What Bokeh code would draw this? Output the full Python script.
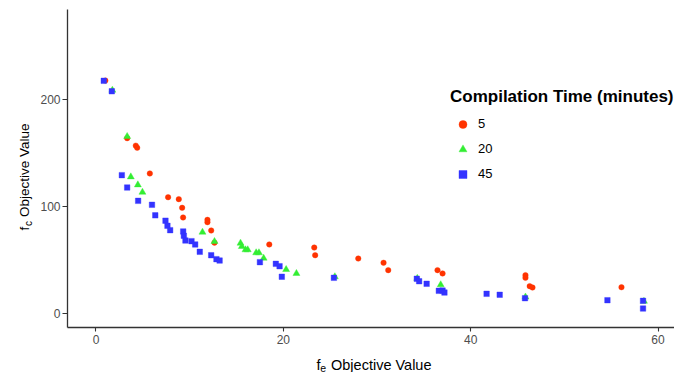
import math
from bokeh.plotting import figure
from bokeh.layouts import row, column
from bokeh.models import ColumnDataSource, Legend, LegendItem, Label, FixedTicker
from bokeh.embed import file_html
from bokeh.resources import INLINE

# ---------------- data ----------------
x_5 = [1.0, 3.33, 4.25, 4.40, 5.75, 7.7, 8.84, 9.2, 9.3, 11.9, 11.9, 12.3, 12.65,
       18.5, 23.3, 23.4, 28.0, 30.7, 31.2, 36.46, 37.0, 45.85, 45.85, 46.3, 46.6, 56.1]
y_5 = [218.0, 164.0, 157.0, 155.0, 130.9, 108.6, 106.8, 98.7, 89.6, 87.4, 85.2, 77.4, 66.0,
       64.3, 61.4, 54.2, 51.1, 47.1, 40.2, 40.2, 37.1, 35.5, 33.0, 25.2, 23.9, 24.2]

x_20 = [1.75, 3.33, 3.72, 4.47, 4.96, 11.37, 12.65, 15.43, 15.57, 15.96, 16.2, 17.1, 17.4,
        17.9, 20.3, 21.4, 25.5, 34.3, 36.8, 45.85, 58.5]
y_20 = [209.0, 165.6, 127.7, 120.2, 113.3, 75.8, 67.1, 65.5, 62.4, 59.3, 59.3, 56.5, 56.5,
        51.4, 40.8, 37.1, 34.0, 32.5, 26.5, 15.0, 11.0]

x_45 = [0.83, 1.69, 2.76, 3.33, 4.5, 5.98, 6.33, 7.42, 7.63, 7.92, 9.31, 9.38, 9.55, 10.2,
        10.59, 11.08, 12.3, 12.86, 13.2, 17.5, 19.2, 19.6, 19.84, 25.4, 34.25, 34.5, 35.3,
        36.6, 37.0, 37.2, 41.7, 43.1, 45.8, 54.6, 58.4, 58.4]
y_45 = [217.8, 208.0, 129.3, 117.7, 105.2, 101.5, 91.6, 86.6, 81.8, 77.7, 76.5, 72.4, 68.0, 67.4,
        64.3, 57.4, 54.2, 50.5, 49.2, 47.7, 46.1, 43.9, 34.0, 33.0, 32.1, 29.8, 27.4,
        20.8, 21.0, 19.2, 18.0, 17.1, 13.9, 12.0, 11.4, 4.2]

series_labels = ["5", "20", "45"]
x_ticks = [0, 20, 40, 60]
y_ticks = [0, 100, 200]
legend_title = "Compilation Time (minutes)"
axis_title_main = "Objective Value"
x_title_sub = "e"
y_title_sub = "c"

FONT = "Liberation Sans"

# ---------------- main figure ----------------
p = figure(
    output_backend="svg", toolbar_location=None,
    frame_width=607, frame_height=318,
    min_border_left=31, min_border_right=0, min_border_top=9, min_border_bottom=21,
    x_range=(-3.04, 61.76), y_range=(-13.6, 284.7),
    background_fill_color="white", border_fill_color="white",
)
p.outline_line_color = None
p.grid.visible = False

for ax in (p.xaxis[0], p.yaxis[0]):
    ax.axis_line_color = "#333333"
    ax.axis_line_width = 1.3
    ax.major_tick_line_color = "#333333"
    ax.major_tick_line_width = 1.1
    ax.minor_tick_line_color = None
    ax.major_tick_in = 0
    ax.major_label_text_font = FONT
    ax.major_label_text_font_size = "12px"
    ax.major_label_text_color = "#4D4D4D"

p.xaxis[0].ticker = FixedTicker(ticks=x_ticks)
p.yaxis[0].ticker = FixedTicker(ticks=y_ticks)
p.xaxis[0].major_tick_out = 4
p.yaxis[0].major_tick_out = 5
p.xaxis[0].major_label_standoff = 3
p.yaxis[0].major_label_standoff = 2

src5 = ColumnDataSource(dict(x=x_5, y=y_5))
src20 = ColumnDataSource(dict(x=x_20, y=y_20))
src45 = ColumnDataSource(dict(x=x_45, y=y_45))

r5 = p.scatter("x", "y", source=src5, marker="circle", size=5.5,
               fill_color="#FF3300", line_color="#FF3300", line_width=0.4)
r20 = p.scatter("x", "y", source=src20, marker="triangle", size=7,
                fill_color="#33EE33", line_color="#33EE33", line_width=0.4)
r45 = p.scatter("x", "y", source=src45, marker="square", size=5.5,
                fill_color="#3333FF", line_color="#3333FF", line_width=0.4)

legend = Legend(
    items=[LegendItem(label=series_labels[0], renderers=[r5]),
           LegendItem(label=series_labels[1], renderers=[r20]),
           LegendItem(label=series_labels[2], renderers=[r45])],
    title=legend_title,
    title_text_font=FONT, title_text_font_style="bold", title_text_font_size="17px",
    title_text_color="black", title_standoff=7,
    label_text_font=FONT, label_text_font_size="13px", label_text_color="black",
    glyph_width=25, glyph_height=20, label_height=20, label_standoff=3, spacing=5,
    padding=0, margin=0,
    background_fill_alpha=0, border_line_color=None,
    location=(383, 143.5),
)
p.add_layout(legend, "center")


def title_fig(w, h):
    f = figure(width=w, height=h, output_backend="svg", toolbar_location=None,
               x_axis_type=None, y_axis_type=None, min_border=0,
               x_range=(0, 1), y_range=(0, 1),
               background_fill_color="white", border_fill_color="white")
    f.outline_line_color = None
    return f


def lab(f, text, x, y, size, angle=0.0):
    f.add_layout(Label(x=x, y=y, x_units="screen", y_units="screen", text=text,
                       angle=angle, text_font=FONT, text_font_size=size,
                       text_color="black", text_align="left",
                       text_baseline="alphabetic"))


# y axis title: f_c Objective Value (rotated)
yt = title_fig(36, 372)
lab(yt, "f", 24.0, 142.0, "13.5px", math.pi / 2)
lab(yt, y_title_sub, 27.5, 146.5, "10px", math.pi / 2)
lab(yt, axis_title_main, 24.0, 155.5, "13.5px", math.pi / 2)

# x axis title: f_e Objective Value (frame of this strip is aligned with the main frame)
xt = title_fig(638, 24)
lab(xt, "f", 249.0, 8.0, "14.5px")
lab(xt, x_title_sub, 252.7, 5.0, "10.5px")
lab(xt, axis_title_main, 263.5, 8.0, "14.5px")

layout = row(yt, column(p, xt, spacing=0), spacing=0)

open("out.html", "w").write(file_html(layout, INLINE))
